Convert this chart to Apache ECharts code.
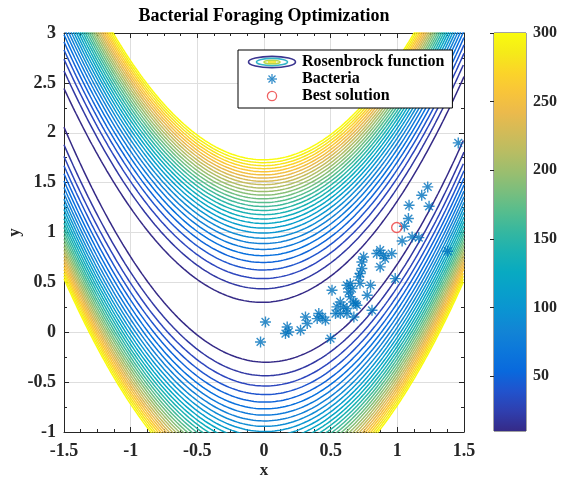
<!DOCTYPE html>
<html>
<head>
<meta charset="utf-8">
<script src="https://cdn.jsdelivr.net/npm/echarts@6/dist/echarts.min.js"></script>
<style>
html,body{margin:0;padding:0;background:#fff;}
#main{width:562px;height:478px;}
</style>
</head>
<body>
<div id="main"></div>
<script>
// ---- data ----
const xRange = [-1.5, 1.5];
const yRange = [-1, 3];
const levels = [10,20,30,40,50,60,70,80,90,100,110,120,130,140,150,160,170,180,190,200,210,220,230,240,250,260,270,280,290,300];
const colorbarRange = [10, 300];
const colorbarTicks = [50, 100, 150, 200, 250, 300];
const bacteria = [
  [1.457,1.898],
  [1.228,1.457],[1.183,1.373],[1.238,1.263],[1.088,1.273],[1.083,1.140],[1.053,1.063],
  [1.111,0.955],[1.161,0.949],[1.036,0.915],[1.378,0.812],
  [0.871,0.822],[0.846,0.789],[0.896,0.772],[0.958,0.789],[0.908,0.739],
  [0.871,0.655],[0.747,0.755],[0.734,0.705],[0.734,0.639],[0.722,0.589],[0.710,0.555],
  [0.984,0.538],[0.647,0.488],[0.622,0.471],[0.660,0.438],[0.635,0.404],[0.799,0.471],
  [0.720,0.490],[0.647,0.356],
  [0.774,0.371],[0.510,0.421],[0.672,0.304],[0.697,0.271],[0.572,0.304],[0.547,0.254],[0.597,0.254],[0.622,0.238],
  [0.810,0.220],[0.686,0.288],[0.674,0.153],[0.573,0.188],[0.536,0.188],[0.622,0.188],
  [0.411,0.188],[0.436,0.153],[0.399,0.137],[0.461,0.120],[0.311,0.153],[0.324,0.087],[0.274,0.020],
  [0.174,0.053],[0.161,-0.013],[0.186,0.003],[0.011,0.103],[-0.026,-0.097],[0.499,-0.063]
];
const bestSolution = [[0.995, 1.05]];

// ---- styles ----
const FONT = 'Liberation Serif';
const AXIS_COLOR = '#262626';
const parulaStops = [
  [0.2081,0.1663,0.5292],[0.1707,0.2919,0.7792],[0.0165,0.4266,0.8786],[0.0779,0.5040,0.8384],
  [0.0343,0.5966,0.8199],[0.0267,0.6642,0.7607],[0.1453,0.7098,0.6646],[0.3482,0.7424,0.5473],
  [0.5709,0.7485,0.4494],[0.7525,0.7384,0.3768],[0.9139,0.7258,0.3063],[0.9955,0.7861,0.1967],
  [0.9598,0.9218,0.0948],[0.9763,0.9831,0.0538]
];
const stopPos = [0,5,10,15,20,25,30,35,40,45,50,55,60,63].map(v => v/63);
function parula(t){
  t = Math.max(0, Math.min(1, t));
  let i = 0;
  while (i < stopPos.length - 2 && t > stopPos[i+1]) i++;
  const f = (t - stopPos[i]) / (stopPos[i+1] - stopPos[i]);
  const a = parulaStops[i], b = parulaStops[i+1];
  const c = a.map((v, k) => Math.round(255 * (v + (b[k] - v) * f)));
  return 'rgb(' + c.join(',') + ')';
}

// Rosenbrock f(x,y) = (1-x)^2 + 100 (y-x^2)^2 ; contour branch for level c
function contourBranch(c, sign){
  const pts = [];
  const n = 600;
  for (let i = 0; i <= n; i++){
    const x = xRange[0] + (xRange[1] - xRange[0]) * i / n;
    const r = c - (1 - x) * (1 - x);
    if (r < 0) continue;
    pts.push([x, x * x + sign * Math.sqrt(r / 100)]);
  }
  return pts;
}

const series = [];
levels.forEach(c => {
  const col = parula((c - colorbarRange[0]) / (colorbarRange[1] - colorbarRange[0]));
  [1, -1].forEach(s => {
    series.push({
      type: 'line', name: 'Rosenbrock function', xAxisIndex: 0, yAxisIndex: 0,
      data: contourBranch(c, s), showSymbol: false, symbol: 'none', clip: true,
      lineStyle: { color: col, width: 1.5 }, itemStyle: { color: col },
      silent: true, animation: false, z: 2
    });
  });
});

const starPath = 'path://M0,-1L0,1M-1,0L1,0M-0.707,-0.707L0.707,0.707M-0.707,0.707L0.707,-0.707';
series.push({
  type: 'scatter', name: 'Bacteria', xAxisIndex: 0, yAxisIndex: 0,
  data: bacteria, symbol: starPath, symbolSize: 11,
  itemStyle: { color: '#0072BD', borderColor: '#0072BD', borderWidth: 1.4 },
  animation: false, z: 5
});
series.push({
  type: 'scatter', name: 'Best solution', xAxisIndex: 0, yAxisIndex: 0,
  data: bestSolution, symbol: 'circle', symbolSize: 10,
  itemStyle: { color: 'rgba(0,0,0,0)', borderColor: '#ec3b3b', borderWidth: 1.4 },
  animation: false, z: 6
});
// colorbar
const cbStops = [];
for (let i = 0; i <= 20; i++) cbStops.push({ offset: i / 20, color: parula(i / 20) });
series.push({
  type: 'custom', xAxisIndex: 2, yAxisIndex: 2, silent: true, animation: false,
  data: [[0, colorbarRange[0], colorbarRange[1]]],
  renderItem: function(params, api){
    const p1 = api.coord([0, api.value(2)]);
    const p2 = api.coord([1, api.value(1)]);
    return {
      type: 'rect',
      shape: { x: p1[0], y: p1[1], width: p2[0] - p1[0], height: p2[1] - p1[1] },
      style: { fill: new echarts.graphic.LinearGradient(0, 1, 0, 0, cbStops) }
    };
  }
});

function svgIcon(inner){
  return 'image://data:image/svg+xml;charset=utf-8,' + encodeURIComponent(
    "<svg xmlns='http://www.w3.org/2000/svg' width='50' height='14' viewBox='0 0 50 14'>" + inner + "</svg>");
}
const ellipseIcon = svgIcon(
  "<ellipse cx='25' cy='7' rx='23.5' ry='5.6' fill='none' stroke='#3b3590' stroke-width='1.6'/>" +
  "<ellipse cx='25' cy='7' rx='15.5' ry='3.6' fill='none' stroke='#33b5c8' stroke-width='1.6'/>" +
  "<ellipse cx='25' cy='7' rx='8' ry='1.8' fill='none' stroke='#b9d64a' stroke-width='1.6'/>" +
  "<line x1='21' y1='7' x2='29' y2='7' stroke='#f3e21c' stroke-width='1.6'/>");
const starIcon = svgIcon(
  "<g stroke='#0072BD' stroke-width='1.3' fill='none'>" +
  "<line x1='25' y1='2' x2='25' y2='12'/><line x1='20' y1='7' x2='30' y2='7'/>" +
  "<line x1='21.5' y1='3.5' x2='28.5' y2='10.5'/><line x1='21.5' y1='10.5' x2='28.5' y2='3.5'/></g>");
const circleIcon = svgIcon("<circle cx='25' cy='7' r='4.6' fill='none' stroke='#ec3b3b' stroke-width='1.3'/>");

const labelStyle = { fontFamily: FONT, fontWeight: 'bold', fontSize: 18, color: AXIS_COLOR };
function mainAxis(range, interval, minorSplit, position, showLabel, extra){
  return Object.assign({
    type: 'value', gridIndex: 0, min: range[0], max: range[1], interval: interval, position: position,
    axisLine: { show: true, onZero: false, lineStyle: { color: AXIS_COLOR, width: 1 } },
    axisTick: { show: true, inside: true, length: 5, lineStyle: { color: AXIS_COLOR } },
    minorTick: { show: true, splitNumber: minorSplit, length: 3, lineStyle: { color: AXIS_COLOR } },
    axisLabel: Object.assign({ show: showLabel }, labelStyle),
    splitLine: { show: showLabel, lineStyle: { color: '#dedede', width: 1 } },
    minorSplitLine: { show: false }
  }, extra || {});
}

const option = {
  animation: false,
  backgroundColor: '#fff',
  title: {
    text: 'Bacterial Foraging Optimization', left: 264, top: 7, textAlign: 'center', padding: 0,
    textStyle: { fontFamily: FONT, fontWeight: 'bold', fontSize: 18, color: '#000' }
  },
  legend: {
    orient: 'vertical', left: 238, top: 50, selectedMode: false,
    padding: [4, 8, 4, 9], itemGap: 1, itemWidth: 50, itemHeight: 14,
    backgroundColor: '#fff', borderColor: '#000', borderWidth: 1, borderRadius: 0,
    textStyle: { fontFamily: FONT, fontWeight: 'bold', fontSize: 16, color: '#000', padding: [0,0,0,0] },
    data: [
      { name: 'Rosenbrock function', icon: ellipseIcon },
      { name: 'Bacteria', icon: starIcon },
      { name: 'Best solution', icon: circleIcon }
    ],
    z: 20
  },
  grid: [
    { left: 64, top: 33, width: 400, height: 399, containLabel: false, outerBoundsMode: 'none' },
    { left: 494, top: 33, width: 32, height: 398, containLabel: false, outerBoundsMode: 'none',
      show: true, borderColor: '#444', borderWidth: 1, backgroundColor: 'transparent' }
  ],
  xAxis: [
    mainAxis(xRange, 0.5, 4, 'bottom', true, {
      name: 'x', nameLocation: 'middle', nameGap: 30, nameMoveOverlap: false,
      nameTextStyle: { fontFamily: FONT, fontWeight: 'bold', fontSize: 17, color: AXIS_COLOR },
      axisLabel: Object.assign({ show: true, margin: 10 }, labelStyle)
    }),
    mainAxis(xRange, 0.5, 4, 'top', false),
    { type: 'value', gridIndex: 1, min: 0, max: 1, show: false }
  ],
  yAxis: [
    mainAxis(yRange, 0.5, 2, 'left', true, {
      name: 'y', nameLocation: 'middle', nameGap: 41, nameRotate: 90, nameMoveOverlap: false,
      nameTextStyle: { fontFamily: FONT, fontWeight: 'bold', fontSize: 17, color: AXIS_COLOR },
      axisLabel: Object.assign({ show: true, margin: 8 }, labelStyle)
    }),
    mainAxis(yRange, 0.5, 2, 'right', false),
    {
      type: 'value', gridIndex: 1, min: colorbarRange[0], max: colorbarRange[1], position: 'right',
      axisLine: { show: false },
      axisTick: { show: true, inside: true, length: 4, customValues: colorbarTicks, lineStyle: { color: AXIS_COLOR } },
      axisLabel: Object.assign({}, labelStyle, { show: true, margin: 7, fontSize: 16, customValues: colorbarTicks }),
      splitLine: { show: false }
    }
  ],
  series: series
};

const chart = echarts.init(document.getElementById('main'), null, { renderer: 'canvas' });
chart.setOption(option);
</script>
</body>
</html>
